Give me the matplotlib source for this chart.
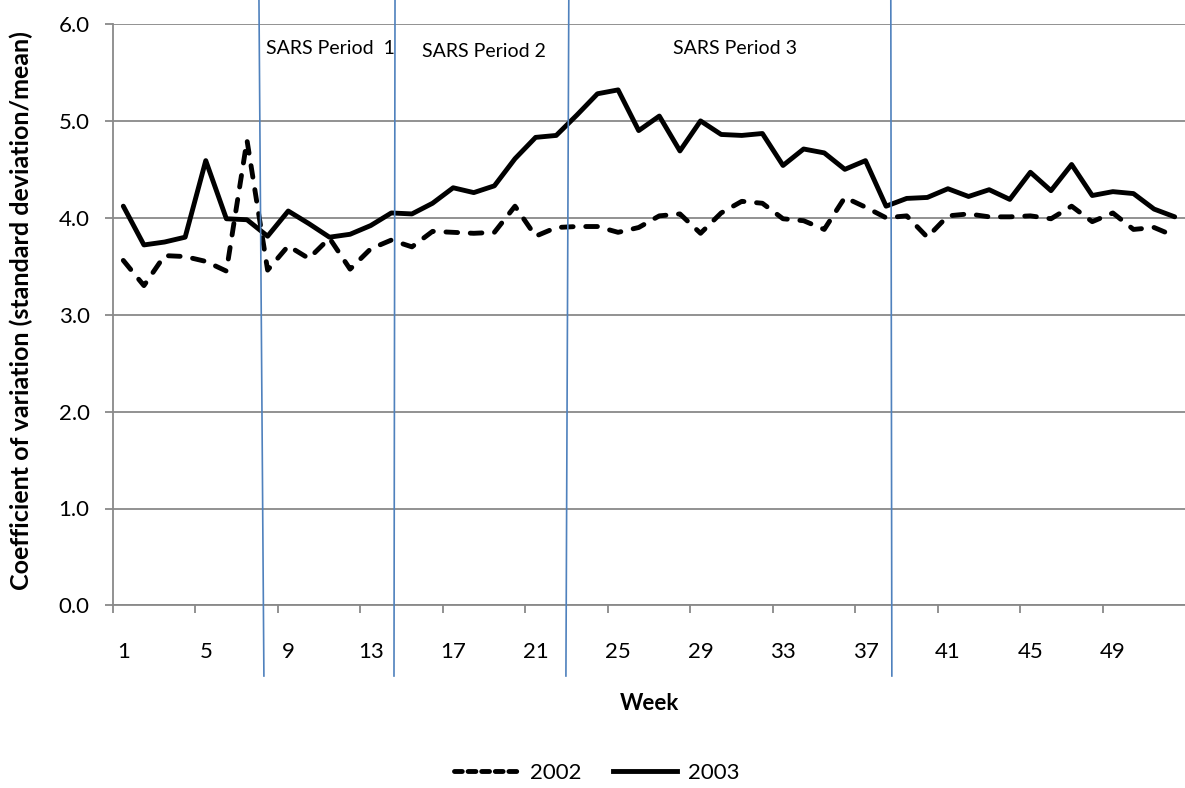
import matplotlib
matplotlib.use("Agg")
import matplotlib.pyplot as plt
from matplotlib.lines import Line2D
import numpy as np

plt.rcParams['font.family'] = ['Lato', 'DejaVu Sans']

weeks = list(range(1, 53))
cv_2002 = [3.56, 3.30, 3.61, 3.60, 3.55, 3.45, 4.80, 3.46, 3.71, 3.58,
           3.79, 3.47, 3.68, 3.77, 3.70, 3.86, 3.85, 3.84, 3.85, 4.12,
           3.81, 3.90, 3.91, 3.91, 3.85, 3.90, 4.02, 4.04, 3.84, 4.05,
           4.17, 4.15, 3.99, 3.97, 3.88, 4.21, 4.11, 4.00, 4.02, 3.80,
           4.02, 4.04, 4.01, 4.01, 4.02, 3.99, 4.12, 3.96, 4.05, 3.88,
           3.90, 3.81]
cv_2003 = [4.12, 3.72, 3.75, 3.80, 4.59, 3.99, 3.98, 3.81, 4.07, 3.94,
           3.80, 3.83, 3.92, 4.05, 4.04, 4.15, 4.31, 4.26, 4.33, 4.61,
           4.83, 4.85, 5.06, 5.28, 5.32, 4.90, 5.05, 4.69, 5.00, 4.86,
           4.85, 4.87, 4.54, 4.71, 4.67, 4.50, 4.59, 4.12, 4.20, 4.21,
           4.30, 4.22, 4.29, 4.19, 4.47, 4.28, 4.55, 4.23, 4.27, 4.25,
           4.09, 4.01]
tick_weeks = list(range(1, 53, 4))
y_ticks = [0.0, 1.0, 2.0, 3.0, 4.0, 5.0, 6.0]

# SARS period boundary lines (week position at top and bottom)
boundary_top = [7.58, 14.18, 22.61, 38.23]
boundary_bottom = [7.82, 14.13, 22.47, 38.28]
period_labels = ["SARS Period  1", "SARS Period 2", "SARS Period 3"]
period_label_x = [7.93, 15.47, 27.68]
period_label_y = [5.75, 5.72, 5.75]

fig = plt.figure(figsize=(11.85, 7.88), dpi=100)
ax = fig.add_axes([113/1185, 1-605.4/788, 1-113/1185, (605.4-24)/788])

grid_c = '#898989'
ax.set_xlim(0.5, 52.5)
ax.set_ylim(0, 6)
ax.set_yticks(y_ticks)
ax.set_yticklabels([f"{v:.1f}" for v in y_ticks])
ax.set_xticks(tick_weeks)
ax.set_xticklabels([str(w) for w in tick_weeks])
ax.set_xticks([w - 0.5 for w in tick_weeks], minor=True)
ax.tick_params(axis='x', which='major', length=0, pad=26, labelsize=16)
ax.tick_params(axis='x', which='minor', length=5.5, width=1.3, color=grid_c, direction='out')
ax.tick_params(axis='y', length=5.8, width=1.3, color=grid_c, pad=11, labelsize=16)
ax.yaxis.grid(True, color=grid_c, lw=1.3)
ax.set_axisbelow(True)
for s in ['top', 'right']:
    ax.spines[s].set_visible(False)
for s in ['left', 'bottom']:
    ax.spines[s].set_color(grid_c)
    ax.spines[s].set_linewidth(1.3)

ax.plot(weeks, cv_2002, color='black', lw=3.5, linestyle=(0, (2.4, 2.6)),
        dash_capstyle='round', solid_joinstyle='round', label='2002', zorder=3)
ax.plot(weeks, cv_2003, color='black', lw=3.5, solid_capstyle='round',
        solid_joinstyle='round', label='2003', zorder=3)

y_top = 6 + 24/96.9
y_bot = -(676-605.4)/96.9
for xt, xb in zip(boundary_top, boundary_bottom):
    ax.plot([xt, xb], [y_top, y_bot], color='#4F81BD', lw=1.2, clip_on=False, zorder=4)

for lab, lx, ly in zip(period_labels, period_label_x, period_label_y):
    ax.text(lx, ly, lab, fontsize=14, ha='left', va='center', color='black')

fig.text(649/1185, 1-703/788, 'Week', fontsize=16, fontweight='bold', ha='center', va='center')
fig.text(21/1185, 1-311/788, 'Coefficient of variation (standard deviation/mean)',
         fontsize=18, fontweight='bold', rotation=90, ha='center', va='center')

handles = [Line2D([0], [0], color='black', lw=3.5, linestyle=(0, (1.6, 1.2)), dash_capstyle='round'),
           Line2D([0], [0], color='black', lw=3.5)]
fig.legend(handles, ['2002', '2003'], loc='center', bbox_to_anchor=(597/1185, 1-773/788),
           ncol=2, frameon=False, fontsize=16, handlelength=2.9, handletextpad=0.5,
           columnspacing=1.4)

fig.savefig('out.png', dpi=100)
